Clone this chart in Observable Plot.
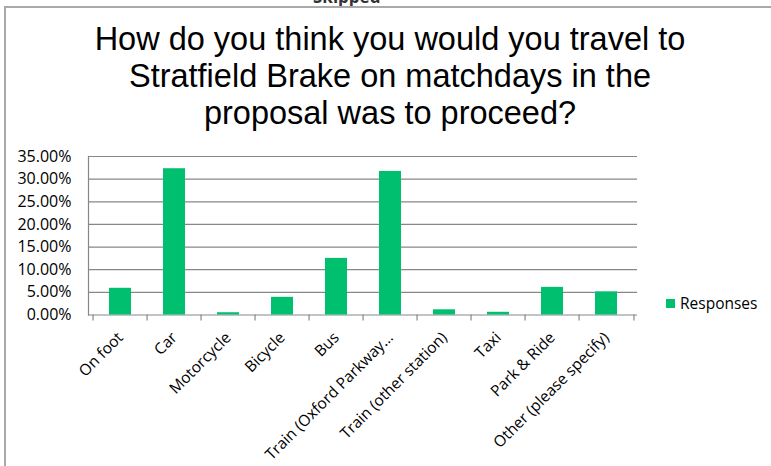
<!DOCTYPE html>
<html>
<head>
<meta charset="utf-8">
<script src="https://cdn.jsdelivr.net/npm/d3@7"></script>
<script src="https://cdn.jsdelivr.net/npm/@observablehq/plot@0.6"></script>
<style>
  html, body { margin: 0; padding: 0; background: #fff; }
  #wrap { position: relative; width: 771px; height: 466px; overflow: hidden; background: #fff; }
  #frame { position: absolute; left: 4px; top: 6px; width: 800px; height: 500px;
           border-top: 2px solid #a9a9a9; border-left: 2px solid #a9a9a9; }
  #skipped { position: absolute; left: 313px; top: -15px; font: bold 17px "Open Sans", sans-serif; color: #333; }
  #title { position: absolute; left: 0; top: 21px; width: 780px; text-align: center;
           font: 32.5px/37px "Liberation Sans", Arial, sans-serif; color: #000; }
  #chart { position: absolute; left: 0; top: 140px; }
  #legend { position: absolute; left: 666px; top: 292px; display: flex; align-items: center;
            font: 15.5px "Open Sans", sans-serif; color: #000; }
  #legend .sw { width: 9px; height: 9px; background: #00BF6F; margin-right: 5px; }
</style>
</head>
<body>
<div id="wrap">
  <div id="skipped">Skipped</div>
  <div id="frame"></div>
  <div id="title">How do you think you would you travel to<br>Stratfield Brake on matchdays in the<br>proposal was to proceed?</div>
  <div id="chart"></div>
  <div id="legend"><span class="sw"></span><span>Responses</span></div>
</div>
<script>
const categories = ["On foot", "Car", "Motorcycle", "Bicycle", "Bus", "Train (Oxford Parkway…", "Train (other station)", "Taxi", "Park & Ride", "Other (please specify)"];
const responses = [5.9, 32.3, 0.5, 3.9, 12.5, 31.7, 1.15, 0.6, 6.1, 5.1];
const yTicks = [0, 5, 10, 15, 20, 25, 30, 35];
const seriesName = "Responses";

const data = categories.map((c, i) => ({category: c, value: responses[i]}));

const width = 771, height = 326, mL = 88, mR = 134;
const step = (width - mL - mR) / categories.length;

const chart = Plot.plot({
  width, height,
  marginLeft: mL, marginRight: mR, marginTop: 16, marginBottom: 151.5,
  style: {fontFamily: "Open Sans", fontSize: "15.5px", color: "#000", background: "transparent"},
  x: {domain: categories, paddingInner: 0.6, paddingOuter: 0.3, label: null, tickRotate: -45, tickSize: 0, tickPadding: 20},
  y: {domain: [0, 35], ticks: yTicks, label: null, tickFormat: d => d.toFixed(2) + "%", tickSize: 0, tickPadding: 17},
  marks: [
    Plot.gridY(yTicks, {stroke: "#878787", strokeOpacity: 1, strokeWidth: 1.2}),
    Plot.frame({anchor: "left", stroke: "#878787", strokeWidth: 1.2}),
    Plot.ruleX(categories, {x: d => d, y1: 0, y2: 0, insetBottom: -6, dx: -step / 2, stroke: "#878787", strokeWidth: 1.2}),
    Plot.ruleX(categories.slice(-1), {x: d => d, y1: 0, y2: 0, insetBottom: -6, dx: step / 2, stroke: "#878787", strokeWidth: 1.2}),
    Plot.barY(data, {x: "category", y: "value", fill: "#00BF6F"}),
    Plot.axisY({ticks: yTicks, tickFormat: d => d.toFixed(2) + "%", tickSize: 0, tickPadding: 17, fontSize: 16, label: null})
  ]
});
document.getElementById("chart").appendChild(chart);
</script>
</body>
</html>
